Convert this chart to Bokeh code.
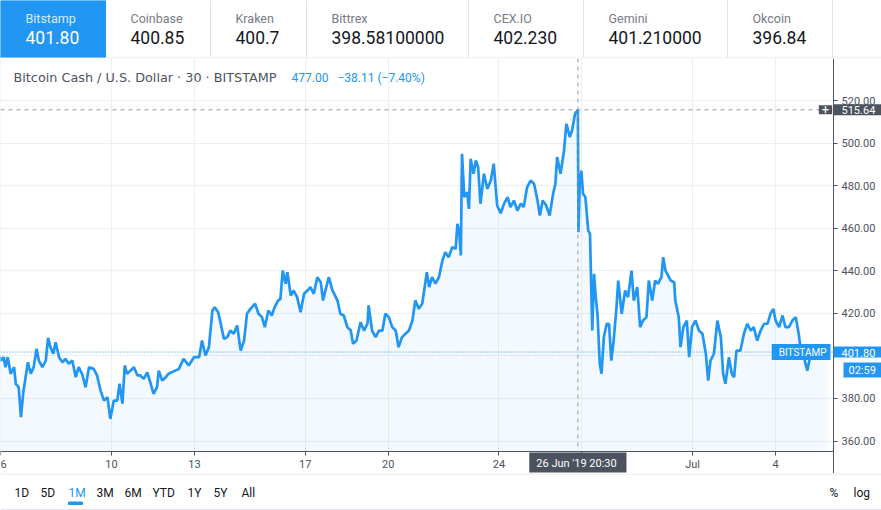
import pandas as pd
from bokeh.plotting import figure
from bokeh.layouts import column
from bokeh.models import (Range1d, FixedTicker, NumeralTickFormatter, Span, Label, ColumnDataSource,
                          LinearAxis, DatetimeAxis, Grid)
from bokeh.core.properties import value
from bokeh.embed import file_html
from bokeh.resources import INLINE

FONT = "Roboto"
LEGEND_FONT = "DejaVu Sans"
BLUE = "#2196f3"
DARK = "#131722"
GREY = "#787b86"
AXIS_TXT = "#4c525e"
AXIS_LINE = "#50535e"
BORDER = "#e0e3eb"
GRID = "#e9eff6"
LABEL_BG = "#4c525e"

# ---------------- data ----------------
exchanges = ["Bitstamp", "Coinbase", "Kraken", "Bittrex", "CEX.IO", "Gemini", "Okcoin"]
exchange_prices = ["401.80", "400.85", "400.7", "398.58100000", "402.230", "401.210000", "396.84"]

symbol_title = "Bitcoin Cash / U.S. Dollar \u00b7 30 \u00b7 BITSTAMP"
hover_close = "477.00"
hover_change = "\u221238.11 (\u22127.40%)"

range_buttons = ["1D", "5D", "1M", "3M", "6M", "YTD", "1Y", "5Y", "All"]
active_range = "1M"
right_buttons = ["%", "log"]

base_time = "2019-06-06 00:00"
hours = [
    -3, 0, 2.5, 4, 6, 8.5, 11.5, 13, 15.5, 17.5, 19.5, 21.5, 23.5, 26, 28.5, 31, 33, 36, 39, 41,
    43, 45.5, 47.5, 50.5, 53.5, 56, 59, 62, 65, 67.5, 70.5, 73.5, 76.5, 80.5, 83.5, 86.5, 89.5,
    92.5, 95, 98, 101, 103, 105.5, 107.5, 109.5, 112.5, 115.5, 118.5, 121, 124, 127, 130, 132.5,
    135.5, 137, 140, 143, 145.5, 154.5, 158.5, 163, 167.5, 172, 174.5, 177.5, 180.5, 183.5, 185.5,
    188.5, 190.5, 193.5, 196.5, 199, 202, 205, 208, 211, 213.5, 216.5, 220.5, 223.5, 226.5, 229,
    232, 235, 237.5, 240.5, 242.5, 244.5, 247, 248.5, 251.5, 254, 257, 260, 263, 266, 268.5,
    271.5, 274.5, 277.5, 279.5, 281.5, 284.5, 287.5, 292, 294.5, 297.5, 300.5, 303.5, 305.5,
    308.5, 312, 315, 318, 319, 322, 325, 328, 331, 333.5, 336.5, 339.5, 342.5, 345, 348, 351,
    354, 357, 359.5, 362.5, 365.5, 369.5, 371.5, 374, 377, 380, 383, 385.5, 388.5, 391.5, 394.5,
    396, 397.5, 399, 400, 402, 404.5, 406, 407.5, 410, 412, 414, 416, 419, 422, 425, 427.5,
    430.5, 433.5, 436.5, 439.5, 442, 445, 448, 451, 453.5, 456.5, 459.5, 462.5, 465.5, 467.5,
    470, 473, 476, 479, 481, 482.5, 485.5, 488.5, 490.5, 493.5, 495.5, 498, 500.5, 501, 502,
    503.5, 505, 507, 509.5, 511, 513, 514.5, 516, 517.5, 519.5, 521, 523, 525.5, 527.5, 529.5,
    531.5, 534, 535.5, 538.5, 541.5, 544, 547, 549, 552, 554.5, 557, 560, 562, 565, 567.5, 570,
    573, 574.5, 576.5, 581, 584, 585, 588, 589.5, 592, 595, 597, 599.5, 602.5, 605.5, 608.5,
    611.5, 613.5, 615.5, 618.5, 621.5, 624.5, 626.5, 628.5, 631.5, 634, 636, 638, 641.5, 644.5,
    647.5, 650.5, 653, 656, 659, 662, 665, 667.5, 670, 672, 675, 678, 680.5, 683.5, 686.5,
    689.5, 692, 693.5, 696.5, 699.5, 702.5, 705, 708, 711, 714, 717,
]
close = [
    402.0, 397.8, 399.4, 394.7, 399.4, 391.6, 394.7, 386.9, 385.3, 371.2, 382.9, 390.0, 397.0,
    391.6, 394.7, 403.3, 397.8, 394.7, 397.8, 408.5, 404.1, 401.0, 406.4, 399.4, 397.0, 398.6,
    396.3, 397.8, 390.0, 394.7, 391.6, 385.3, 394.7, 393.9, 390.8, 383.7, 379.0, 380.6, 370.4,
    379.0, 379.0, 386.9, 377.5, 395.5, 391.6, 393.1, 394.7, 390.8, 390.8, 389.2, 392.3, 386.9,
    382.2, 385.3, 393.1, 388.4, 390.0, 391.6, 393.9, 398.6, 395.5, 399.4, 399.4, 407.2, 400.2,
    404.1, 421.3, 422.9, 420.5, 415.8, 408.0, 408.8, 411.9, 410.4, 414.3, 402.5, 407.2, 419.8,
    422.1, 424.5, 419.8, 418.2, 413.5, 421.3, 419.0, 422.9, 426.0, 426.8, 440.1, 433.9, 439.3,
    428.4, 430.7, 427.6, 420.5, 429.2, 430.7, 432.3, 429.2, 437.0, 434.6, 426.0, 430.7, 437.0,
    431.0, 426.0, 419.8, 419.0, 413.5, 411.9, 405.7, 407.2, 415.8, 411.9, 415.1, 423.7, 411.9,
    408.8, 411.9, 411.9, 419.8, 418.2, 413.5, 411.9, 404.1, 408.8, 410.4, 411.9, 416.6, 426.0,
    422.1, 424.5, 439.3, 432.3, 437.0, 433.9, 437.0, 444.8, 448.7, 446.4, 451.1, 450.3, 462.1,
    458.9, 447.2, 495.0, 474.6, 476.9, 469.1, 492.6, 485.6, 491.8, 488.7, 471.5, 485.6, 478.5,
    482.4, 490.3, 470.7, 467.0, 471.5, 474.6, 469.9, 473.0, 468.3, 471.5, 469.9, 479.3, 482.4,
    480.9, 473.0, 466.0, 473.0, 470.7, 466.0, 476.2, 480.9, 493.4, 485.6, 496.5, 509.1, 502.8,
    505.9, 513.8, 515.64, 458.1, 479.3, 487.1, 476.2, 474.6, 458.9, 457.4, 411.9, 438.6, 427.6,
    419.8, 396.3, 391.6, 408.8, 415.1, 415.1, 397.8, 407.2, 422.9, 435.4, 419.8, 430.7, 427.6,
    440.1, 426.0, 432.3, 413.5, 416.6, 418.2, 435.4, 426.0, 435.4, 433.9, 437.0, 446.4, 440.1,
    435.4, 434.6, 426.0, 418.2, 404.1, 413.5, 416.6, 399.4, 413.5, 416.6, 411.9, 410.4, 401.0,
    388.4, 397.8, 401.0, 416.6, 408.8, 391.6, 386.9, 399.4, 391.6, 390.0, 402.5, 402.5, 410.4,
    415.1, 411.9, 413.5, 407.2, 411.9, 415.1, 415.1, 419.8, 422.1, 416.6, 413.5, 419.0, 413.5,
    413.5, 416.6, 418.2, 410.4, 404.1, 399.4, 393.1, 401.0, 404.9, 401.0, 402.5, 404.1, 401.8,
]

x_tick_dates = ["2019-06-06", "2019-06-10", "2019-06-13", "2019-06-17", "2019-06-20",
                "2019-06-24", "2019-06-27", "2019-07-01", "2019-07-04"]
x_tick_labels = ["6", "10", "13", "17", "20", "24", "", "Jul", "4"]
y_ticks = [360, 380, 400, 420, 440, 460, 480, 500, 520]

last_price = 401.80
last_label = "BITSTAMP"
countdown = "02:59"
hover_time = "2019-06-26 20:30"
hover_price = 515.64
hover_time_label = "26 Jun '19  20:30"

# view: full pane (chart + price scale + time scale)
x_view = ("2019-06-05 23:44", "2019-07-07 19:50")
y_view = (344.73, 539.75)
price_scale_at = "2019-07-06 02:15"   # where the price scale starts
time_scale_at = 355.07                # where the time scale starts

# ---------------- layout constants ----------------
W = 881
H_HDR, H_MAIN, H_FTR = 58, 415, 37
tab_widths = [105, 105, 96, 162, 115, 144, 105]
range_button_x = [14, 40, 68, 96, 124, 152, 187, 213, 241]
right_button_x = [829, 853]


def bare(height):
    f = figure(width=W, height=height, x_range=Range1d(0, W), y_range=Range1d(height, 0),
               toolbar_location=None, output_backend="svg", x_axis_location=None,
               y_axis_location=None, min_border=0, outline_line_color=None)
    f.grid.visible = False
    return f


# ---------------- header (exchange tabs) ----------------
hdr = bare(H_HDR)
lefts = [sum(tab_widths[:i]) for i in range(len(tab_widths))]
rights = [l + w for l, w in zip(lefts, tab_widths)]
hdr.quad(left=lefts[0], right=rights[0], top=0, bottom=57, color=BLUE)
hdr.segment(x0=rights[1:], y0=[0] * 6, x1=rights[1:], y1=[57] * 6, line_color=BORDER)
hdr.segment(x0=[0], y0=[57.5], x1=[W], y1=[57.5], line_color=BORDER)
tx = [l + 25 for l in lefts]
hdr.text(x=tx, y=[18] * 7, text=exchanges, text_color=["#dbeafd"] + [GREY] * 6,
         text_font=value(FONT), text_font_size="12.5px", text_baseline="middle")
hdr.text(x=tx, y=[37] * 7, text=exchange_prices, text_color=["#ffffff"] + [DARK] * 6,
         text_font=value(FONT), text_font_size="17.5px", text_baseline="middle")

# ---------------- main chart ----------------
t = pd.Timestamp(base_time) + pd.to_timedelta(hours, unit="h")
src = ColumnDataSource(dict(t=t, p=close))


def ms(s):
    return int(pd.Timestamp(s).value // 10**6)


x0_ms, x1_ms, xs_ms = ms(x_view[0]), ms(x_view[1]), ms(price_scale_at)

p = figure(width=W, height=H_MAIN, x_range=Range1d(x0_ms, x1_ms), y_range=Range1d(*y_view),
           x_axis_location=None, y_axis_location=None, toolbar_location=None,
           output_backend="svg", min_border=0, outline_line_color=None)
p.grid.visible = False

tick_ms = [ms(d) for d in x_tick_dates]
xt = FixedTicker(ticks=tick_ms)
yt = FixedTicker(ticks=y_ticks)

xg = Grid(dimension=0, ticker=xt, grid_line_color=GRID)
yg = Grid(dimension=1, ticker=yt, grid_line_color=GRID)
clip_ok = True
try:
    xg.cross_bounds = (time_scale_at, y_view[1])
    yg.cross_bounds = (x0_ms, xs_ms)
except Exception:
    clip_ok = False
p.add_layout(xg)
p.add_layout(yg)
if not clip_ok:
    p.quad(left=xs_ms, right=x1_ms, bottom=y_view[0], top=y_view[1], color="white")
    p.quad(left=x0_ms, right=x1_ms, bottom=y_view[0], top=time_scale_at, color="white")

p.varea(x="t", y1=time_scale_at, y2="p", source=src, color=BLUE, alpha=0.055)
p.line(x="t", y="p", source=src, line_color=BLUE, line_width=2.7)

xax = DatetimeAxis(ticker=xt, fixed_location=time_scale_at, bounds=(x0_ms, xs_ms),
                   major_label_overrides={m: l for m, l in zip(tick_ms, x_tick_labels)})
yax = LinearAxis(ticker=yt, fixed_location=xs_ms, formatter=NumeralTickFormatter(format="0.00"),
                 major_label_overrides={400: ""})
for ax in (xax, yax):
    ax.axis_line_color = AXIS_LINE
    ax.major_tick_line_color = AXIS_LINE
    ax.major_tick_in = 0
    ax.major_tick_out = 4
    ax.minor_tick_line_color = None
    ax.major_label_text_color = AXIS_TXT
    ax.major_label_text_font = FONT
    ax.major_label_text_font_size = "11px"
xax.major_label_standoff = 3
yax.major_label_standoff = 4
p.add_layout(xax, "below")
p.add_layout(yax, "right")

# last price line and crosshair
hover_ms = ms(hover_time)
p.add_layout(Span(location=last_price, dimension="width", line_color=BLUE, line_dash="1 2", line_width=1))
p.add_layout(Span(location=hover_ms, dimension="height", line_color="#9598a1", line_dash="4 4", line_width=1))
p.add_layout(Span(location=hover_price, dimension="width", line_color="#9598a1", line_dash="4 4", line_width=1))


def lab(**kw):
    base = dict(text_font=FONT, text_font_size="11px", text_baseline="middle")
    base.update(kw)
    p.add_layout(Label(**base))


FH = H_MAIN  # frame height (screen y is measured up from the frame bottom)

# legend
lab(x=13, y=FH - 19, x_units="screen", y_units="screen", text=symbol_title,
    text_color=AXIS_TXT, text_font=LEGEND_FONT, text_font_size="12.8px")
lab(x=291, y=FH - 19, x_units="screen", y_units="screen", text=hover_close,
    text_color=BLUE, text_font_size="12px")
lab(x=337, y=FH - 19, x_units="screen", y_units="screen", text=hover_change,
    text_color=BLUE, text_font_size="12px")

# price scale labels (x is the left / right edge of the label box)
lab(x=833, y=last_price, x_units="screen", text="%.2f" % last_price, text_color="#ffffff",
    background_fill_color=BLUE, padding=dict(left=8, right=9, top=2, bottom=1))
lab(x=830, y=last_price, x_units="screen", text=last_label, text_color="#ffffff",
    text_align="right", text_font_size="10px", background_fill_color=BLUE,
    padding=dict(left=7, right=4, top=3, bottom=2))
lab(x=843, y=FH - (369.5 - 58), x_units="screen", y_units="screen", text=countdown,
    text_color="#ffffff", background_fill_color=BLUE, padding=dict(left=5, right=8, top=1, bottom=1))
lab(x=833, y=hover_price, x_units="screen", text="%.2f" % hover_price, text_color="#ffffff",
    background_fill_color=LABEL_BG, padding=dict(left=8, right=9, top=2, bottom=1))
lab(x=825, y=hover_price, x_units="screen", text="+", text_color="#ffffff", text_align="center",
    text_font_size="13px", background_fill_color=LABEL_BG, padding=dict(left=3, right=3, top=0, bottom=0))
lab(x=hover_ms, y=FH - (462 - 58), y_units="screen", text=hover_time_label, text_color="#ffffff",
    text_align="center", background_fill_color=LABEL_BG, padding=dict(left=7, right=7, top=4, bottom=3))

# ---------------- footer (range buttons) ----------------
ftr = bare(H_FTR)
ftr.segment(x0=[0, 0], y0=[0.5, 36], x1=[W, W], y1=[0.5, 36], line_color=BORDER)
ftr.text(x=range_button_x, y=[19] * len(range_buttons), text=range_buttons,
         text_color=[BLUE if b == active_range else DARK for b in range_buttons],
         text_font=value(FONT), text_font_size="12px", text_baseline="middle")
ai = range_buttons.index(active_range)
ftr.quad(left=range_button_x[ai], right=range_button_x[ai] + 14, top=28.5, bottom=31, color=BLUE)
ftr.text(x=right_button_x, y=[19, 19], text=right_buttons, text_color=DARK,
         text_font=value(FONT), text_font_size="12px", text_baseline="middle")

layout = column(hdr, p, ftr, spacing=0)
open("out.html", "w").write(file_html(layout, INLINE))
